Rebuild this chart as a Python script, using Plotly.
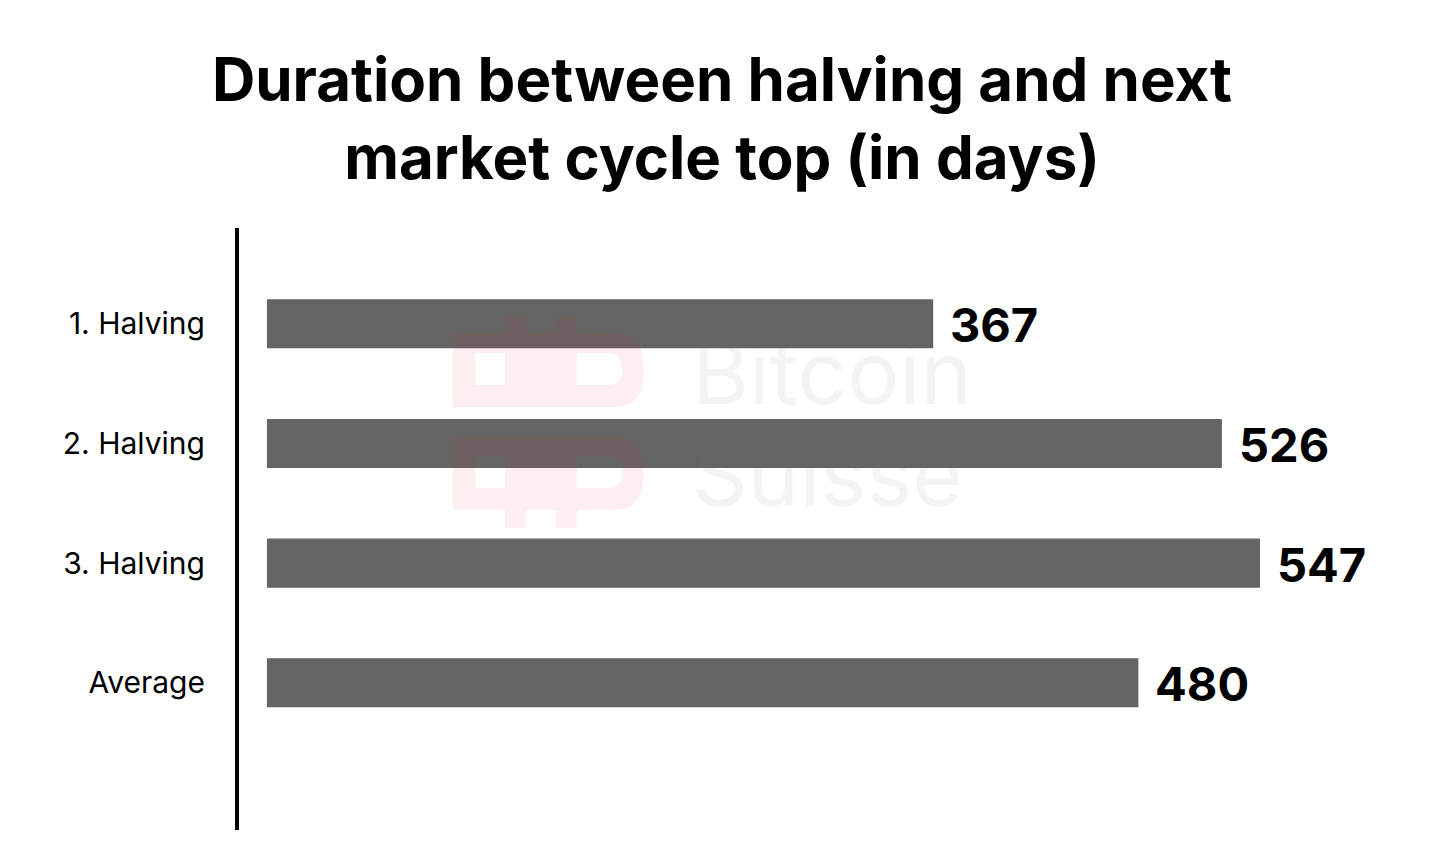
import plotly.graph_objects as go

categories = ["1. Halving", "2. Halving", "3. Halving", "Average"]
days = [367, 526, 547, 480]
title_lines = ["Duration between halving and next", "market cycle top (in days)"]

W, H = 1440, 854
L, R, T, B = 231, 11, 220, 32
PW, PH = W - L - R, H - T - B
OFF = 8  # page body offset


def px(x):
    return (x - OFF - L) / PW


def py(y):
    return (H - B - (y - OFF)) / PH


fig = go.Figure()
fig.add_trace(go.Bar(
    x=days, y=categories, orientation="h",
    marker=dict(color="#646464", line=dict(width=0)),
    width=0.41, hoverinfo="skip",
))

for c, v in zip(categories, days):
    fig.add_annotation(
        x=v, y=c, xref="x", yref="y", text=f"<b>{v}</b>", showarrow=False,
        xanchor="left", yanchor="middle", xshift=15, yshift=-1,
        font=dict(family="Inter, Roboto, sans-serif", size=47, color="#000000"),
    )

# faint watermark (drawn on top, like the original)
wm_font = dict(family="Inter, sans-serif", size=87, color="rgba(100,120,110,0.08)")
fig.add_annotation(x=px(690), y=py(372), xref="paper", yref="paper", text="Bitcoin",
                   showarrow=False, xanchor="left", yanchor="middle", font=wm_font)
fig.add_annotation(x=px(690), y=py(474), xref="paper", yref="paper", text="Suisse",
                   showarrow=False, xanchor="left", yanchor="middle", font=wm_font)


def P(x, y):
    return f"{px(x):.5f},{py(y):.5f}"


def logo_part(dy, stems_up):
    y0, y1 = 333 + dy, 407 + dy
    h0, h1 = 353 + dy, 385 + dy
    s = (f"M{P(453, y0)} L{P(613, y0)} Q{P(643, y0)} {P(643, y0 + 30)} "
         f"L{P(643, y1 - 30)} Q{P(643, y1)} {P(613, y1)} L{P(453, y1)} Z "
         f"M{P(475, h0)} L{P(505, h0)} L{P(505, h1)} L{P(475, h1)} Z "
         f"M{P(577, h0)} L{P(607, h0)} Q{P(622, h0)} {P(622, (h0 + h1) / 2)} "
         f"Q{P(622, h1)} {P(607, h1)} L{P(577, h1)} Z ")
    if stems_up:
        ya, yb = y0 - 17, y0
    else:
        ya, yb = y1, y1 + 18
    for xa, xb in [(505, 526), (556, 577)]:
        s += f"M{P(xa, ya)} L{P(xb, ya)} L{P(xb, yb)} L{P(xa, yb)} Z "
    return s


for dy, up in [(0, True), (103, False)]:
    fig.add_shape(type="path", path=logo_part(dy, up), xref="paper", yref="paper",
                  fillcolor="rgba(225,40,50,0.075)", line=dict(width=0),
                  fillrule="evenodd", layer="above")

fig.update_layout(
    width=W, height=H,
    paper_bgcolor="white", plot_bgcolor="white",
    margin=dict(l=L, r=R, t=T, b=B),
    showlegend=False,
    title=dict(
        text="<b>" + "<br>".join(title_lines) + "</b>",
        x=714 / 1440, xanchor="center", xref="container",
        y=1 - 93 / 854, yanchor="top", yref="container",
        font=dict(family="Inter, Roboto, sans-serif", size=60, color="#000000"),
    ),
    xaxis=dict(range=[-15.4, 644.5], visible=False, fixedrange=True),
    yaxis=dict(
        categoryorder="array", categoryarray=categories,
        range=[4.23, -0.8],
        showline=True, linecolor="#000000", linewidth=4,
        showgrid=False, zeroline=False, ticks="",
        ticklabelstandoff=24,
        tickfont=dict(family="Inter, Roboto, sans-serif", size=30, color="#000000"),
    ),
)

fig.write_html("out.html")
